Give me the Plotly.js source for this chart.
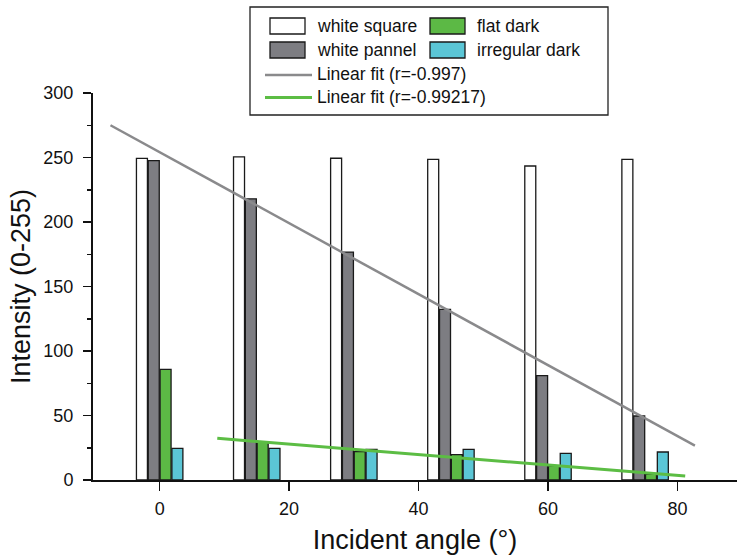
<!DOCTYPE html>
<html>
<head>
<meta charset="utf-8">
<script src="https://cdn.plot.ly/plotly-3.0.1.min.js"></script>
<style>html,body{margin:0;padding:0;background:#fff;}#chart{width:737px;height:556px;}</style>
</head>
<body>
<div id="chart"></div>
<script>
// Data
const angles = [0, 15, 30, 45, 60, 75];
const whiteSquare = [249.3, 250.5, 249.4, 248.6, 243.4, 248.6];
const whitePannel = [247.5, 218, 176.7, 132.3, 80.9, 49.6];
const flatDark = [85.8, 29.7, 22, 19.6, 11, 4.6];
const irregularDark = [24.5, 24.5, 23.8, 23.8, 20.7, 21.7];
// Linear fit lines (end points)
const fitGrayX = [-7.6, 82.7];
const fitGrayY = [275, 26.6];
const fitGreenX = [8.9, 81.2];
const fitGreenY = [32.3, 3.1];
const xTicks = [0, 20, 40, 60, 80];
const seriesNames = ["white square", "white pannel", "flat dark", "irregular dark"];
const fitNames = ["Linear fit (r=-0.997)", "Linear fit (r=-0.99217)"];

const FONT = "Liberation Sans, Arial, Helvetica, sans-serif";
const colors = {white: "#ffffff", gray: "#7d7d82", green: "#5cb945", cyan: "#5bc6d6",
  fitGray: "#8a8a8c", fitGreen: "#5cbd44"};

function barTrace(name, y, fill, lineColor) {
  return {type: "bar", name: name, x: angles, y: y, showlegend: false,
    marker: {color: fill, line: {color: lineColor, width: 1.3}}, hoverinfo: "x+y+name"};
}
const traces = [
  barTrace(seriesNames[0], whiteSquare, colors.white, "#1a1a1a"),
  barTrace(seriesNames[1], whitePannel, colors.gray, "#1a1a1a"),
  barTrace(seriesNames[2], flatDark, colors.green, "#1a1a1a"),
  barTrace(seriesNames[3], irregularDark, colors.cyan, "#1a1a1a"),
  {type: "scatter", mode: "lines", name: fitNames[0], x: fitGrayX, y: fitGrayY, showlegend: false,
    line: {color: colors.fitGray, width: 2.5}},
  {type: "scatter", mode: "lines", name: fitNames[1], x: fitGreenX, y: fitGreenY, showlegend: false,
    line: {color: colors.fitGreen, width: 3}}
];

// plot area in pixels
const W = 737, H = 556, L = 93, R = 0, T = 93, B = 76;
const pw = W - L - R, ph = H - T - B;
const px = x => (x - L) / pw;
const py = y => (H - B - y) / ph;

const shapes = [
  {type: "rect", xref: "paper", yref: "paper", x0: px(250), x1: px(608), y0: py(115), y1: py(7),
    line: {color: "#222", width: 1.3}, fillcolor: "rgba(0,0,0,0)"},
  {type: "rect", xref: "paper", yref: "paper", x0: px(270), x1: px(305), y0: py(34), y1: py(18),
    line: {color: "#1a1a1a", width: 1.3}, fillcolor: colors.white},
  {type: "rect", xref: "paper", yref: "paper", x0: px(430), x1: px(465), y0: py(34), y1: py(18),
    line: {color: "#1a1a1a", width: 1.3}, fillcolor: colors.green},
  {type: "rect", xref: "paper", yref: "paper", x0: px(270), x1: px(305), y0: py(58), y1: py(42),
    line: {color: "#1a1a1a", width: 1.3}, fillcolor: colors.gray},
  {type: "rect", xref: "paper", yref: "paper", x0: px(430), x1: px(465), y0: py(58), y1: py(42),
    line: {color: "#1a1a1a", width: 1.3}, fillcolor: colors.cyan},
  {type: "line", xref: "paper", yref: "paper", x0: px(265), x1: px(312), y0: py(75), y1: py(75),
    line: {color: colors.fitGray, width: 2.5}},
  {type: "line", xref: "paper", yref: "paper", x0: px(265), x1: px(312), y0: py(97.5), y1: py(97.5),
    line: {color: colors.fitGreen, width: 3}}
];
function legText(text, x, y) {
  return {xref: "paper", yref: "paper", x: px(x), y: py(y), text: text, showarrow: false,
    xanchor: "left", yanchor: "middle", font: {family: FONT, size: 17.5, color: "#111"}};
}
const annotations = [
  legText(seriesNames[0], 315, 26),
  legText(seriesNames[2], 475, 26),
  legText(seriesNames[1], 315, 50),
  legText(seriesNames[3], 475, 50),
  legText(fitNames[0], 315, 74),
  legText(fitNames[1], 315, 97)
];

const layout = {
  width: W, height: H,
  margin: {l: L, r: R, t: T, b: B, pad: 0},
  paper_bgcolor: "#fff", plot_bgcolor: "#fff",
  font: {family: FONT, color: "#111"},
  barmode: "group", bargap: 0.513, bargroupgap: 0.07,
  showlegend: false,
  xaxis: {range: [-10.3, 89.2], tickvals: xTicks, ticks: "outside", ticklen: 9, tickwidth: 1.5,
    tickcolor: "#111", showline: true, linecolor: "#111", linewidth: 2, showgrid: false, zeroline: false,
    tickfont: {family: FONT, size: 18, color: "#111"}, ticklabelstandoff: 2,
    title: {text: "Incident angle (°)", font: {family: FONT, size: 27, color: "#111"}, standoff: 13}},
  yaxis: {range: [0, 300], dtick: 50, ticks: "outside", ticklen: 8, tickwidth: 1.5, tickcolor: "#111",
    showline: true, linecolor: "#111", linewidth: 2, showgrid: false, zeroline: false,
    minor: {dtick: 25, ticks: "outside", ticklen: 4, tickwidth: 1.5, tickcolor: "#111", showgrid: false},
    tickfont: {family: FONT, size: 18, color: "#111"}, ticklabelstandoff: 6,
    title: {text: "Intensity (0-255)", font: {family: FONT, size: 27, color: "#111"}, standoff: 5}},
  shapes: shapes,
  annotations: annotations
};

Plotly.newPlot("chart", traces, layout, {displayModeBar: false, staticPlot: true});
</script>
</body>
</html>
